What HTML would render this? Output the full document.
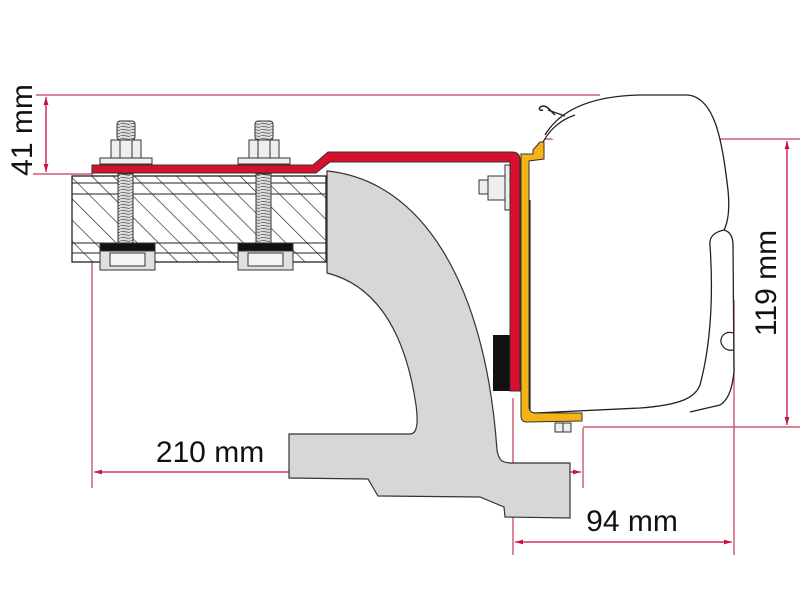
<!DOCTYPE html>
<html><head><meta charset="utf-8"><style>
html,body{margin:0;padding:0;background:#fff;}
svg{display:block}
text{font-family:"Liberation Sans",sans-serif;fill:#111;}
</style></head><body>
<svg width="800" height="600" viewBox="0 0 800 600" xmlns="http://www.w3.org/2000/svg">
<defs>
<pattern id="hatch" patternUnits="userSpaceOnUse" width="15" height="15" patternTransform="rotate(-45)">
<rect width="15" height="15" fill="#fff"/>
<line x1="0" y1="0" x2="0" y2="15" stroke="#222" stroke-width="1.3"/>
</pattern>
<pattern id="thread" patternUnits="userSpaceOnUse" width="10" height="3">
<rect width="10" height="3" fill="#ddd"/>
<line x1="0" y1="0" x2="10" y2="1.5" stroke="#555" stroke-width="0.8"/>
</pattern>
<marker id="ar" viewBox="0 0 10 10" refX="10" refY="5" markerWidth="8" markerHeight="8" orient="auto-start-reverse" markerUnits="userSpaceOnUse">
<path d="M0,2 L10,5 L0,8 z" fill="#c8103e"/>
</marker>
</defs>

<g stroke="#c23a5a" stroke-width="1.2" fill="none">
<line x1="36" y1="95" x2="600" y2="95"/>
<line x1="33" y1="174" x2="92" y2="174"/>
<line x1="92" y1="168" x2="92" y2="488"/>
<line x1="545" y1="139" x2="800" y2="139"/>
<line x1="583" y1="427" x2="800" y2="427"/>
<line x1="583" y1="428" x2="583" y2="488"/>
<line x1="513" y1="398" x2="513" y2="555"/>
<line x1="734" y1="300" x2="734" y2="555"/>
</g>
<g stroke="#c8103e" stroke-width="1.3" fill="none">
<line x1="46" y1="97" x2="46" y2="172" marker-start="url(#ar)" marker-end="url(#ar)"/>
<line x1="787" y1="141" x2="787" y2="425" marker-start="url(#ar)" marker-end="url(#ar)"/>
<line x1="94" y1="472" x2="581" y2="472" marker-start="url(#ar)" marker-end="url(#ar)"/>
<line x1="515" y1="542" x2="732" y2="542" marker-start="url(#ar)" marker-end="url(#ar)"/>
</g>

<rect x="72" y="176" width="254" height="86" fill="url(#hatch)" stroke="#222" stroke-width="1.3"/>
<line x1="72" y1="183" x2="326" y2="183" stroke="#222"/>
<line x1="72" y1="194" x2="326" y2="194" stroke="#222"/>
<line x1="72" y1="243" x2="326" y2="243" stroke="#222"/>
<line x1="72" y1="253" x2="326" y2="253" stroke="#222"/>

<path d="M327,171 C420,180 485,280 497,450 C499,462 503,462 510,463 L570,463 L570,518 L505,517 L504,507 L480,497 L378,496 L368,479 L289,478 L289,434 L410,434 C418,434 418,420 416,405 C405,330 375,285 327,273 Z" fill="#d7d7d7" stroke="#333" stroke-width="1.2"/>

<rect x="493" y="335" width="18" height="56" fill="#111"/>

<path d="M92,165 L313,165 L328,152 L512,152 Q520,152 520,160 L520,391 L510,391 L510,162 L330,162 L316,173 L92,173 Z" fill="#d8102e" stroke="#333" stroke-width="1"/>

<g stroke="#333" stroke-width="1" fill="#eee">
<rect x="100" y="158" width="52" height="6"/>
<rect x="238" y="158" width="52" height="6"/>
<rect x="111" y="140" width="30" height="18"/>
<rect x="249" y="140" width="30" height="18"/>
<line x1="120" y1="140" x2="120" y2="158"/><line x1="132" y1="140" x2="132" y2="158"/>
<line x1="258" y1="140" x2="258" y2="158"/><line x1="270" y1="140" x2="270" y2="158"/>
<rect x="117" y="121" width="18" height="19" rx="3" fill="url(#thread)"/>
<rect x="255" y="121" width="18" height="19" rx="3" fill="url(#thread)"/>
<rect x="118" y="174" width="15" height="70" fill="url(#thread)"/>
<rect x="256" y="174" width="15" height="70" fill="url(#thread)"/>
</g>
<g stroke="#333" stroke-width="1">
<rect x="100" y="243" width="55" height="8" fill="#111"/>
<rect x="238" y="243" width="55" height="8" fill="#111"/>
<rect x="100" y="251" width="55" height="19" fill="#e0e0e0"/>
<rect x="238" y="251" width="55" height="19" fill="#e0e0e0"/>
<rect x="110" y="253" width="35" height="13" fill="#f4f4f4"/>
<rect x="248" y="253" width="35" height="13" fill="#f4f4f4"/>
</g>

<g stroke="#333" stroke-width="1" fill="#eee">
<rect x="505" y="165" width="5" height="45"/>
<rect x="488" y="176" width="17" height="24"/>
<rect x="479" y="180" width="9" height="14"/>
</g>

<!-- awning -->
<path d="M545,135 C560,110 590,96 640,95 L688,95 C715,98 722,140 728,190 C730,210 728,222 724,230" fill="#fff" stroke="#222" stroke-width="1.3"/>
<path d="M724,230 C715,232 709,236 710,245 C713,290 712,340 700,385 C695,398 680,405 640,408 L535,413" fill="none" stroke="#222" stroke-width="1.3"/>
<path d="M724,230 C731,232 733,238 733,245 L734,372 C732,390 728,400 720,405 L690,412" fill="none" stroke="#222" stroke-width="1.3"/>
<path d="M733,333 C725,330 718,338 722,345 C726,352 733,350 733,350" fill="#fff" stroke="#222" stroke-width="1.2"/>
<path d="M540,148 C548,130 560,120 575,115" fill="none" stroke="#222" stroke-width="1.2"/>
<path d="M555,115 L548,108 C540,102 536,112 543,110" fill="none" stroke="#222" stroke-width="1.5"/>
<line x1="548" y1="110" x2="565" y2="116" stroke="#222" stroke-width="1.2"/>
<line x1="530" y1="200" x2="530" y2="410" stroke="#222" stroke-width="1.2"/>

<path d="M521,154 L533,154 L533,150 L540,142 L544,142 L544,159 L529,161 L529,408 Q530,413 536,413 L582,413 L582,421 L527,422 Q521,422 521,416 Z" fill="#f5b317" stroke="#333" stroke-width="1"/>
<rect x="555" y="423" width="16" height="9" fill="#eee" stroke="#333" stroke-width="1"/>
<line x1="563" y1="423" x2="563" y2="432" stroke="#333"/>

<text x="0" y="0" font-size="30" transform="translate(32,130) rotate(-90)" text-anchor="middle">41 mm</text>
<text x="0" y="0" font-size="30" transform="translate(776,283) rotate(-90)" text-anchor="middle">119 mm</text>
<text x="210" y="462" font-size="30" text-anchor="middle">210 mm</text>
<text x="632" y="531" font-size="30" text-anchor="middle">94 mm</text>
</svg>
</body></html>
